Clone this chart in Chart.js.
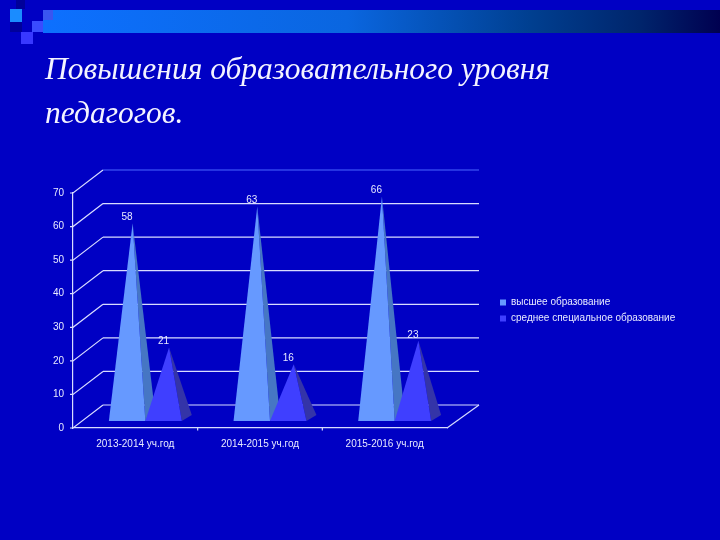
<!DOCTYPE html>
<html><head><meta charset="utf-8">
<style>
html,body{margin:0;padding:0;width:720px;height:540px;overflow:hidden;background:#0000c4}
#wrap{position:relative;width:720px;height:540px}
.d{position:absolute}
#c{position:absolute;left:0;top:0}
</style>
<script src="https://cdn.jsdelivr.net/npm/chart.js@4"></script>
</head><body><div id="wrap">
<div class="d" style="left:43px;top:10px;width:677px;height:23px;background:linear-gradient(90deg,#0d70ff 0%,#0a66e0 45%,#003f90 72%,#00256c 88%,#000050 100%)"></div>
<div class="d" style="left:10px;top:9px;width:12px;height:13px;background:#1a8cff"></div>
<div class="d" style="left:43px;top:10px;width:10px;height:10px;background:#3a55f0"></div>
<div class="d" style="left:32px;top:21px;width:11px;height:11px;background:#3a4cff"></div>
<div class="d" style="left:21px;top:32px;width:12px;height:12px;background:#3838ff"></div>
<div class="d" style="left:16px;top:0;width:9px;height:9px;background:#00009a"></div>
<div class="d" style="left:10px;top:22px;width:12px;height:10px;background:#00009a"></div>
<canvas id="c" width="720" height="540"></canvas>
</div>
<script>
const categories = ["2013-2014 уч.год", "2014-2015 уч.год", "2015-2016 уч.год"];
const seriesNames = ["высшее образование", "среднее специальное образование"];
const higherEdu = [58, 63, 66];
const secondaryEdu = [21, 16, 23];
const frontColors = ["#6699ff", "#3f3fff"];
const sideColors = ["#4676c4", "#3434a8"];
const titleLines = ["Повышения образовательного уровня", "педагогов."];

const pyramids = {
  id: "pyramids",
  beforeDraw(chart) {
    const lg = chart.legend;
    const dx = 494 - lg.left, dy = 40.5;
    lg.left += dx; lg.right = lg.left + 200; lg.top += dy; lg.bottom += dy;
  },
  beforeDatasetsDraw(chart) {
    const ctx = chart.ctx, y = chart.scales.y, x = chart.scales.x, a = chart.chartArea;
    const wx = 30, wy = 23;
    const lineCol = "#d8dcff";
    ctx.save();
    ctx.lineWidth = 1.2;
    y.ticks.forEach(t => {
      const py = y.getPixelForValue(t.value);
      ctx.strokeStyle = lineCol;
      ctx.beginPath();
      ctx.moveTo(a.left - 3, py);
      ctx.lineTo(a.left, py);
      ctx.lineTo(a.left + wx, py - wy);
      ctx.stroke();
      ctx.strokeStyle = t.value === 70 ? "#4a66ff" : lineCol;
      ctx.beginPath();
      ctx.moveTo(a.left + wx, py - wy);
      ctx.lineTo(a.right + wx + 2, py - wy);
      ctx.stroke();
    });
    ctx.strokeStyle = lineCol;
    const y0 = y.getPixelForValue(0);
    ctx.beginPath();
    ctx.moveTo(a.right, y0);
    ctx.lineTo(a.right + wx + 2, y0 - wy);
    ctx.stroke();
    const step = (a.right - a.left) / categories.length;
    for (let i = 1; i < categories.length; i++) {
      const px = x.getPixelForTick(i) - step / 2;
      ctx.beginPath(); ctx.moveTo(px, y0); ctx.lineTo(px, y0 + 2.5); ctx.stroke();
    }

    chart.data.datasets.forEach((ds, i) => {
      const meta = chart.getDatasetMeta(i);
      meta.data.forEach((el, j) => {
        const l = el.x - el.width / 2 + 10, r = el.x + el.width / 2 + 10;
        const bf = el.base - 7, bb = el.base - 13;
        const ax = (l + r) / 2 + 5.5, ay = el.y - 10;
        ctx.fillStyle = sideColors[i];
        ctx.beginPath(); ctx.moveTo(r, bf); ctx.lineTo(r + 10, bb); ctx.lineTo(ax, ay); ctx.closePath(); ctx.fill();
        ctx.fillStyle = frontColors[i];
        ctx.beginPath(); ctx.moveTo(l, bf); ctx.lineTo(r, bf); ctx.lineTo(ax, ay); ctx.closePath(); ctx.fill();
        ctx.fillStyle = "#e8eaff";
        ctx.font = "10px 'Liberation Sans'";
        ctx.textAlign = "center";
        ctx.textBaseline = "middle";
        ctx.fillText(ds.data[j], ax - 5.5, ay - 6);
      });
    });
    ctx.restore();
    return false;
  }
};

new Chart(document.getElementById("c"), {
  type: "bar",
  data: {
    labels: categories,
    datasets: [
      { label: seriesNames[0], data: higherEdu, backgroundColor: frontColors[0] },
      { label: seriesNames[1], data: secondaryEdu, backgroundColor: frontColors[1] }
    ]
  },
  plugins: [pyramids],
  options: {
    responsive: false,
    animation: false,
    devicePixelRatio: 1,
    categoryPercentage: 0.585,
    barPercentage: 1,
    layout: { padding: { left: 45, right: 83, top: 0, bottom: 0 } },
    scales: {
      x: {
        afterFit(s) { s.height = 112; },
        grid: { display: false, drawTicks: false },
        border: { color: "#d8dcff", width: 1.2 },
        ticks: { color: "#e8eaff", font: { family: "'Liberation Sans'", size: 10 }, padding: 10, maxRotation: 0 }
      },
      y: {
        min: 0, max: 70,
        afterFit(s) { s.width = 28; },
        grid: { display: false, tickLength: 3 },
        border: { color: "#d8dcff", width: 1.2 },
        ticks: { stepSize: 10, color: "#e8eaff", font: { family: "'Liberation Sans'", size: 10 }, padding: 6 }
      }
    },
    plugins: {
      title: {
        display: true,
        text: titleLines,
        align: "start",
        color: "#f4f4ff",
        font: { family: "'Liberation Serif'", style: "italic", size: 31.5, weight: "normal", lineHeight: 1.4 },
        padding: { top: 49, bottom: 55.8 }
      },
      legend: {
        position: "right",
        maxWidth: 190,
        labels: {
          color: "#e8eaff",
          boxWidth: 6, boxHeight: 6, padding: 6,
          font: { family: "'Liberation Sans'", size: 10 }
        }
      },
      tooltip: { enabled: false }
    }
  }
});
</script>
</body></html>
